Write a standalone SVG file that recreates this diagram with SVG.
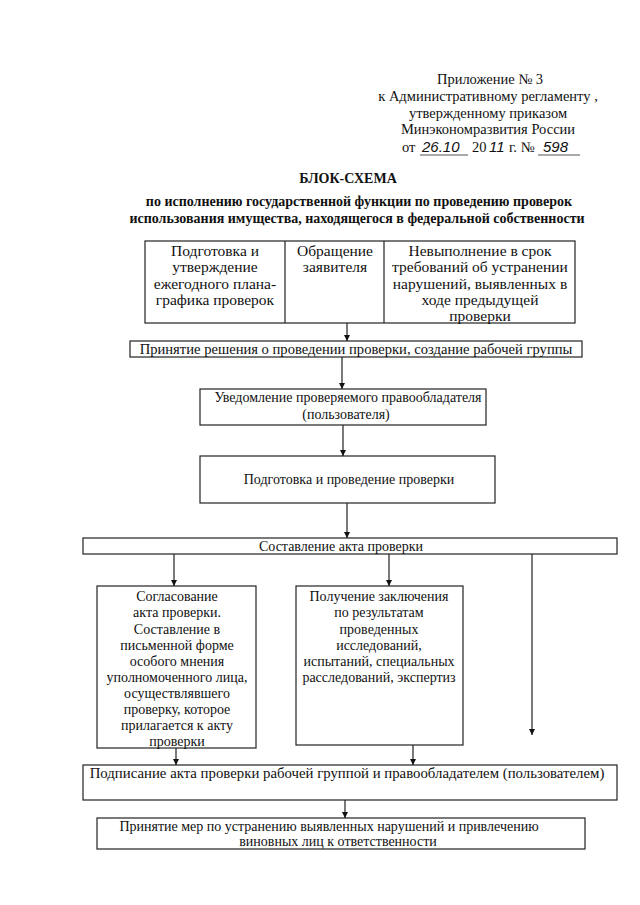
<svg xmlns="http://www.w3.org/2000/svg" width="640" height="905" viewBox="0 0 640 905">
<defs>
<marker id="ah" viewBox="0 0 10 10" refX="10" refY="5" markerWidth="6" markerHeight="6" markerUnits="userSpaceOnUse" orient="auto">
<path d="M0,0 L10,5 L0,10 Z" fill="#111"/>
</marker>
<style>
text{font-family:"Liberation Serif","Times New Roman",serif;font-size:14px;fill:#111;}
.c{text-anchor:middle;}
.b{font-weight:bold;}
.t1{font-size:15.5px;}
.h{font-size:14.5px;}
.hw{font-family:"Liberation Sans",Arial,sans-serif;font-style:italic;font-size:15px;}
rect{fill:none;stroke:#222;stroke-width:1.2;}
.dv{stroke:#222;stroke-width:1.2;}
.con line{stroke:#222;stroke-width:1.2;marker-end:url(#ah);}
.ul{stroke:#555;stroke-width:1;}
</style>
</defs>
<rect x="0" y="0" width="640" height="905" style="fill:#fff;stroke:none"/>
<g id="header">
<text class="c h" x="490" y="84">Приложение № 3</text>
<text class="c h" x="488" y="101">к Административному регламенту ,</text>
<text class="c h" x="488" y="118">утвержденному приказом</text>
<text class="c h" x="488" y="134">Минэкономразвития России</text>
<text class="h" x="402" y="152">от</text>
<text class="hw" x="422" y="152">26.10</text>
<text class="h" x="472" y="152">20</text>
<text class="hw" x="489" y="152">11</text>
<text class="h" x="509" y="152">г. №</text>
<text class="hw" x="543" y="152">598</text>
<line class="ul" x1="420" y1="155" x2="468" y2="155"/>
<line class="ul" x1="538" y1="155" x2="580" y2="155"/>
</g>
<g id="title">
<text class="c b" x="348" y="183">БЛОК-СХЕМА</text>
<text class="c b" x="359" y="206">по исполнению государственной функции по проведению проверок</text>
<text class="c b" x="357" y="223">использования имущества, находящегося в федеральной собственности</text>
</g>
<g id="n1">
<rect x="145" y="241" width="430" height="82"/>
<line class="dv" x1="285" y1="241" x2="285" y2="323"/>
<line class="dv" x1="384" y1="241" x2="384" y2="323"/>
<text class="c t1" x="215" y="256">Подготовка и</text>
<text class="c t1" x="215" y="272">утверждение</text>
<text class="c t1" x="215" y="289">ежегодного плана-</text>
<text class="c t1" x="215" y="305">графика проверок</text>
<text class="c t1" x="335" y="256">Обращение</text>
<text class="c t1" x="335" y="272">заявителя</text>
<text class="c t1" x="480" y="256">Невыполнение в срок</text>
<text class="c t1" x="480" y="272">требований об устранении</text>
<text class="c t1" x="480" y="289">нарушений, выявленных в</text>
<text class="c t1" x="480" y="305">ходе предыдущей</text>
<text class="c t1" x="480" y="321">проверки</text>
</g>
<g id="n2">
<rect x="130" y="341" width="452" height="16"/>
<text class="c" x="356" y="354" style="font-size:14.6px">Принятие решения о проведении проверки, создание рабочей группы</text>
</g>
<g id="n3">
<rect x="200" y="389" width="286" height="36"/>
<text class="c" x="348" y="402">Уведомление проверяемого правообладателя</text>
<text class="c" x="346" y="419">(пользователя)</text>
</g>
<g id="n4">
<rect x="200" y="456" width="295" height="47"/>
<text class="c" x="349" y="484">Подготовка и проведение проверки</text>
</g>
<g id="n5">
<rect x="83" y="538" width="534" height="16"/>
<text class="c" x="341" y="551">Составление акта проверки</text>
</g>
<g id="n6">
<rect x="97" y="586" width="159" height="162"/>
<text class="c" x="177" y="601">Согласование</text>
<text class="c" x="177" y="617">акта проверки.</text>
<text class="c" x="177" y="634">Составление  в</text>
<text class="c" x="177" y="650">письменной форме</text>
<text class="c" x="177" y="666">особого мнения</text>
<text class="c" x="177" y="682">уполномоченного лица,</text>
<text class="c" x="177" y="698">осуществлявшего</text>
<text class="c" x="177" y="714">проверку, которое</text>
<text class="c" x="177" y="730">прилагается к акту</text>
<text class="c" x="177" y="746">проверки</text>
</g>
<g id="n7">
<rect x="296" y="586" width="167" height="159"/>
<text class="c" x="379" y="601">Получение заключения</text>
<text class="c" x="379" y="617">по результатам</text>
<text class="c" x="379" y="634">проведенных</text>
<text class="c" x="379" y="650">исследований,</text>
<text class="c" x="379" y="666">испытаний, специальных</text>
<text class="c" x="379" y="682">расследований, экспертиз</text>
</g>
<g id="n8">
<rect x="83" y="765" width="534" height="35"/>
<text class="c" x="347" y="778" style="font-size:14.8px">Подписание акта проверки рабочей группой и  правообладателем (пользователем)</text>
</g>
<g id="n9">
<rect x="97" y="818" width="488" height="31"/>
<text class="c" x="329" y="831">Принятие мер по устранению выявленных нарушений и привлечению</text>
<text class="c" x="338" y="846">виновных лиц к ответственности</text>
</g>
<g class="con" id="connectors">
<line x1="347" y1="323" x2="347" y2="341"/>
<line x1="342" y1="357" x2="342" y2="389"/>
<line x1="343" y1="425" x2="343" y2="456"/>
<line x1="347" y1="503" x2="347" y2="538"/>
<line x1="174" y1="554" x2="174" y2="586"/>
<line x1="389" y1="554" x2="389" y2="586"/>
<line x1="532" y1="554" x2="532" y2="735"/>
<line x1="176" y1="748" x2="176" y2="765"/>
<line x1="413" y1="745" x2="413" y2="765"/>
<line x1="345" y1="800" x2="345" y2="818"/>
</g>
</svg>
